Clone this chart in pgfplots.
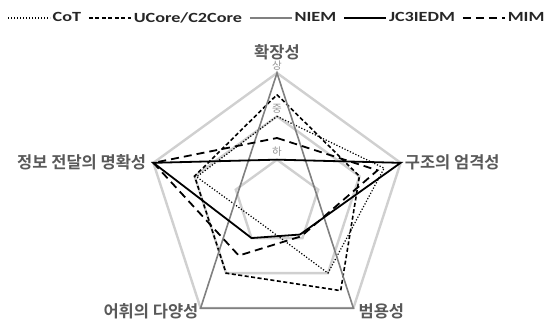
\documentclass[border=0pt]{standalone}
\usepackage{fontspec}
\usepackage{pgfplots}
\pgfplotsset{compat=1.18}
\usepgfplotslibrary{polar}
\newfontfamily\kr{Noto Sans CJK KR}[BoldFont={Noto Sans CJK KR Bold}]
\newfontfamily\legfont{Carlito}[FakeStretch=1.3]
\definecolor{ring}{HTML}{D0D0D0}
\definecolor{niem}{HTML}{808080}
\definecolor{lbl}{HTML}{595959}
\definecolor{lvl}{HTML}{959595}

\begin{document}
\begin{tikzpicture}
\useasboundingbox (0,0) rectangle (556bp,323bp);
\begin{polaraxis}[
  at={(277bp,120bp)}, anchor=center,
  width=260bp, height=260bp, scale only axis,
  xmin=0, xmax=360, ymin=0, ymax=3,
  axis line style={draw=none},
  xtick=\empty, ytick=\empty,
  clip=false,
  legend columns=-1,
  legend style={at={(0.5,1.2115)}, anchor=center, draw=none, fill=none,
    font=\legfont\bfseries\fontsize{14bp}{16bp}\selectfont, text=black!85,
    /tikz/every even column/.append style={column sep=5bp}},
  legend image code/.code={\draw[#1] (0bp,0bp) -- (42bp,0bp);},
]
% rings (하, 중, 상)
\addplot[ring, line width=2.4bp, forget plot] coordinates {(90,1) (18,1) (306,1) (234,1) (162,1)} -- cycle;
\addplot[ring, line width=2.4bp, forget plot] coordinates {(90,2) (18,2) (306,2) (234,2) (162,2)} -- cycle;
\addplot[ring, line width=2.4bp, forget plot] coordinates {(90,3) (18,3) (306,3) (234,3) (162,3)} -- cycle;

% axes: 90 확장성, 18 구조의 엄격성, 306 범용성, 234 어휘의 다양성, 162 정보 전달의 명확성
\addplot[black, line width=1.2bp, dash pattern=on 1.2bp off 1.8bp]
  coordinates {(90,2) (18,2.6) (306,2) (234,0.6) (162,1.95)} -- cycle;
\addlegendentry{CoT}
\addplot[black, line width=1.6bp, dash pattern=on 4bp off 2.5bp]
  coordinates {(90,2.5) (18,2) (306,2.5) (234,2) (162,2)} -- cycle;
\addlegendentry{UCore/C2Core}
\addplot[niem, line width=1.6bp]
  coordinates {(90,3) (18,0.93) (306,3) (234,3) (162,0.93)} -- cycle;
\addlegendentry{NIEM}
\addplot[black, line width=1.8bp]
  coordinates {(90,1) (18,3) (306,0.9) (234,1) (162,3)} -- cycle;
\addlegendentry{JC3IEDM}
\addplot[black, line width=1.8bp, dash pattern=on 8bp off 5bp]
  coordinates {(90,1.5) (18,2.44) (306,0.95) (234,1.5) (162,3)} -- cycle;
\addlegendentry{MIM}

% level labels
\begin{scope}[every node/.style={lvl, font=\kr\fontsize{10.5bp}{12bp}\selectfont, anchor=south, inner sep=0pt, yshift=3bp}]
\node at (axis cs:90,1) {하};
\node at (axis cs:90,2) {중};
\node at (axis cs:90,3) {상};
\end{scope}

% axis labels
\begin{scope}[every node/.style={lbl, font=\kr\bfseries\fontsize{16.5bp}{18bp}\selectfont, inner sep=0pt}]
\node[anchor=center, yshift=21bp] at (axis cs:90,3) {확장성};
\node[anchor=west, xshift=4bp, yshift=1bp] at (axis cs:18,3) {구조의 엄격성};
\node[anchor=west, xshift=5bp, yshift=-3bp] at (axis cs:306,3) {범용성};
\node[anchor=east, xshift=-2bp, yshift=-3bp] at (axis cs:234,3) {어휘의 다양성};
\node[anchor=east, xshift=-7bp, yshift=1bp] at (axis cs:162,3) {정보 전달의 명확성};
\end{scope}
\end{polaraxis}
\end{tikzpicture}
\end{document}
